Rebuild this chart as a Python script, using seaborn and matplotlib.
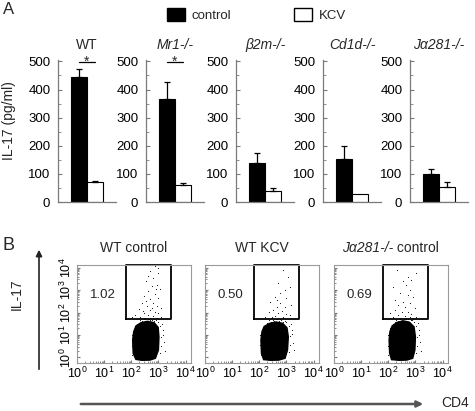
"""IL-17 bar charts (panel A) and CD4 / IL-17 flow plots (panel B)."""

import matplotlib
matplotlib.use("Agg")
import matplotlib.pyplot as plt
import numpy as np
import pandas as pd
import seaborn as sns
from matplotlib.patches import Patch, FancyArrowPatch

# ---- panel A data: IL-17 (pg/ml) ----
genotypes = ["WT", "Mr1-/-", "β2m-/-", "Cd1d-/-", "Jα281-/-"]
title_italic = [False, True, True, True, True]
control_mean = [443, 367, 138, 152, 100]
control_err = [30, 58, 37, 48, 16]
kcv_mean = [70, 60, 40, 27, 52]
kcv_err = [3, 9, 9, 0, 19]
significant = [True, True, False, False, False]

# ---- panel B data: log10 fluorescence (CD4 on x, IL-17 on y) ----
flow_titles = ["WT control", "WT KCV", "Jα281-/- control"]
flow_pct = ["1.02", "0.50", "0.69"]
gate_x = [1.8, 3.47, 3.47, 1.8, 1.8]
gate_y = [1.71, 1.71, 4.12, 4.12, 1.71]

# outline of the dense CD4+ IL-17- population
blob1_x = [2.17, 2.07, 2.05, 2.09, 2.17, 2.36, 2.60, 2.84, 2.99, 3.02, 3.00, 2.89, 2.69, 2.39]
blob1_y = [-0.09, 0.18, 0.78, 1.15, 1.40, 1.55, 1.61, 1.55, 1.34, 0.92, 0.33, -0.04, -0.12, -0.13]
blob2_x = [2.16, 2.08, 2.06, 2.10, 2.18, 2.38, 2.62, 2.86, 3.02, 3.07, 3.04, 2.95, 2.72, 2.42]
blob2_y = [-0.10, 0.18, 0.78, 1.15, 1.38, 1.52, 1.58, 1.52, 1.32, 0.92, 0.33, -0.04, -0.12, -0.13]
blob3_x = [2.12, 2.05, 2.03, 2.06, 2.14, 2.32, 2.55, 2.78, 2.95, 3.00, 2.98, 2.90, 2.68, 2.40]
blob3_y = [-0.10, 0.18, 0.78, 1.15, 1.40, 1.56, 1.63, 1.57, 1.36, 0.92, 0.33, -0.04, -0.12, -0.13]

# scattered events (gate + blob edge)
dots1_x = [2.87, 2.69, 2.99, 2.81, 2.54, 2.93, 2.75, 3.05, 2.63, 2.87, 2.48, 2.99, 2.69,
           2.81, 2.39, 2.57, 2.93, 3.11, 2.27, 2.69, 2.87, 2.45, 2.99, 2.60, 2.15, 2.81,
           2.33, 3.11, 2.51, 2.69, 2.03, 2.93, 2.42, 2.78, 2.54, 2.90, 2.63, 2.99,
           3.05, 3.10, 3.08, 3.15, 3.04, 3.20, 3.12, 2.98, 2.85, 2.70, 2.55, 2.40, 2.28,
           2.20, 2.12, 2.03, 2.01, 2.03, 2.62, 2.78, 2.48, 3.25, 3.18, 2.92, 2.33]
dots1_y = [4.08, 3.84, 3.77, 3.55, 3.40, 3.25, 3.18, 3.03, 2.96, 2.81, 2.74, 2.66, 2.59,
           2.44, 2.41, 2.29, 2.29, 2.22, 2.14, 2.11, 2.02, 1.99, 1.96, 1.90, 1.87, 1.84,
           1.81, 1.80, 1.77, 1.75, 1.78, 1.75, 2.07, 2.22, 2.51, 3.03, 3.62, 3.98,
           0.20, 0.50, 0.90, 1.20, 1.40, 0.70, 1.50, 1.58, 1.62, 1.66, 1.64, 1.62, 1.55,
           1.48, 1.30, 1.00, 0.50, 0.10, 1.70, 1.68, 1.69, 0.30, 1.00, 1.66, 1.66]
dots2_x = [2.86, 3.06, 2.70, 3.12, 2.94, 2.78, 2.58, 3.00, 2.40, 2.76, 2.64, 2.94, 2.52,
           2.82, 2.34, 2.70, 3.00, 2.58, 2.46, 2.88, 2.76, 2.22, 3.12, 2.64, 3.18,
           3.10, 3.14, 3.12, 3.20, 3.09, 3.26, 3.15, 3.00, 2.88, 2.72, 2.56, 2.42, 2.30,
           2.22, 2.13, 2.04, 2.03, 2.05, 2.66, 2.80, 2.50, 3.28, 3.22, 2.95, 2.36]
dots2_y = [3.90, 3.60, 3.30, 3.15, 3.01, 2.86, 2.71, 2.64, 2.49, 2.41, 2.26, 2.26, 2.11,
           2.08, 2.04, 1.96, 1.94, 1.85, 1.82, 1.79, 1.73, 1.78, 1.89, 2.56, 2.34,
           0.25, 0.55, 0.95, 1.20, 1.42, 0.65, 1.48, 1.56, 1.60, 1.64, 1.62, 1.60, 1.53,
           1.46, 1.30, 1.00, 0.55, 0.10, 1.69, 1.67, 1.68, 0.35, 1.05, 1.64, 1.65]
dots3_x = [2.31, 3.03, 2.73, 2.85, 2.19, 2.67, 2.79, 2.43, 2.73, 2.25, 2.91, 2.55, 2.37,
           2.79, 2.61, 2.97, 2.25, 2.49, 2.73, 2.85, 2.37, 2.61, 2.19, 2.79, 3.03, 2.43,
           2.67, 2.91, 2.07, 2.55,
           3.02, 3.06, 3.05, 3.12, 3.01, 3.16, 3.08, 2.94, 2.82, 2.66, 2.50, 2.36, 2.24,
           2.16, 2.08, 1.99, 1.98, 2.00, 2.58, 2.74, 2.44, 3.20, 3.13, 2.88, 2.30]
dots3_y = [3.90, 3.75, 3.60, 3.45, 3.15, 3.23, 3.01, 2.86, 2.78, 2.56, 2.71, 2.49, 2.34,
           2.41, 2.26, 2.19, 2.11, 2.04, 2.04, 1.94, 1.89, 1.85, 1.82, 1.79, 1.82, 1.74,
           1.74, 1.74, 1.96, 3.40,
           0.20, 0.50, 0.90, 1.20, 1.42, 0.70, 1.52, 1.60, 1.66, 1.70, 1.68, 1.64, 1.58,
           1.50, 1.32, 1.00, 0.50, 0.10, 1.72, 1.70, 1.71, 0.30, 1.00, 1.68, 1.68]

blobs = [(blob1_x, blob1_y), (blob2_x, blob2_y), (blob3_x, blob3_y)]
dots = [(dots1_x, dots1_y), (dots2_x, dots2_y), (dots3_x, dots3_y)]

sns.set_style("ticks")
plt.rcParams["font.family"] = ["Liberation Sans", "DejaVu Sans"]
plt.rcParams["mathtext.fontset"] = "custom"
plt.rcParams["mathtext.rm"] = "Liberation Sans"

W, H = 475, 411
fig = plt.figure(figsize=(W / 100, H / 100), dpi=100)
spine_grey = "#7a7a7a"

df = pd.DataFrame({
    "genotype": np.repeat(genotypes, 2),
    "treatment": ["control", "KCV"] * len(genotypes),
    "value": np.ravel(np.column_stack([control_mean, kcv_mean])),
    "err": np.ravel(np.column_stack([control_err, kcv_err])),
})

# ---- panel A ----
a_left = [58, 146, 236, 323, 410]
for i, g in enumerate(genotypes):
    ax = fig.add_axes([a_left[i] / W, 1 - 202 / H, 58 / W, 142 / H])
    sub = df[df["genotype"] == g]
    sns.barplot(data=sub, x="genotype", y="value", hue="treatment",
                hue_order=["control", "KCV"],
                palette={"control": "black", "KCV": "white"},
                edgecolor="black", linewidth=0.8, width=0.8,
                errorbar=None, legend=False, ax=ax)
    centers = []
    for bar, (_, row) in zip(ax.patches, sub.iterrows()):
        cx = bar.get_x() + bar.get_width() / 2
        centers.append(cx)
        if row["err"] > 0:
            ax.errorbar(cx, row["value"], yerr=[[0], [row["err"]]], fmt="none",
                        ecolor="black", elinewidth=0.9, capsize=2.5, capthick=0.9)
    if significant[i]:
        ax.plot(centers, [497, 497], color="black", lw=0.9, clip_on=False)
        ax.text(np.mean(centers), 498, "*", ha="center", va="center", fontsize=10)
    ax.set_xlim(-0.72, 0.72)
    ax.set_ylim(0, 505)
    ax.set_xticks([])
    ax.set_yticks(range(0, 501, 100))
    ax.set_yticks(range(50, 500, 100), minor=True)
    ax.tick_params(axis="y", which="both", direction="in", colors=spine_grey,
                   labelcolor="black", labelsize=9.5, pad=5.5)
    ax.tick_params(axis="y", which="major", length=3)
    ax.tick_params(axis="y", which="minor", length=2)
    ax.set_xlabel("")
    ax.set_ylabel("")
    sns.despine(ax=ax)
    for s in ("left", "bottom"):
        ax.spines[s].set_color(spine_grey)
        ax.spines[s].set_linewidth(0.9)
    ax.set_title(g, fontsize=10, pad=8,
                 style="italic" if title_italic[i] else "normal")

fig.text(9 / W, 1 - 121 / H, "IL-17 (pg/ml)", rotation=90, ha="center",
         va="center", fontsize=10)
fig.text(3 / W, 1 - 9 / H, "A", ha="left", va="center", fontsize=12)
fig.legend(handles=[Patch(fc="black", ec="black"), Patch(fc="white", ec="black")],
           labels=["control", "KCV"], loc="upper left",
           bbox_to_anchor=(160 / W, 1 - 1 / H), ncol=2, frameon=False,
           borderpad=0, handlelength=1.36, handleheight=1.2,
           handletextpad=0.5, columnspacing=4.8, fontsize=9.5)

# ---- panel B ----
b_left = [77, 205, 334]
decades = np.arange(0, 5)
minor = np.concatenate([d + np.log10(np.arange(2, 10)) for d in range(4)])
for i in range(3):
    ax = fig.add_axes([b_left[i] / W, 1 - 363 / H, 114 / W, 98 / H])
    bx, by = blobs[i]
    ax.fill(bx, by, color="black", lw=1.0)
    sns.scatterplot(x=dots[i][0], y=dots[i][1], s=0.6, color="black",
                    linewidth=0, ax=ax)
    ax.plot(gate_x, gate_y, color="black", lw=1.3, clip_on=False)
    ax.text(0.95, 2.78, flow_pct[i], ha="center", va="center", fontsize=9.5)
    ax.set_xlim(0, 4.2)
    ax.set_ylim(-0.25, 4.12)
    ax.set_xticks(decades)
    ax.set_xticklabels([rf"$\mathregular{{10^{{{d}}}}}$" for d in decades])
    ax.set_xticks(minor, minor=True)
    ax.set_yticks(decades)
    ax.set_yticks(minor, minor=True)
    if i == 0:
        ax.set_yticklabels([rf"$\mathregular{{10^{{{d}}}}}$" for d in decades],
                           rotation=90, va="center")
    else:
        ax.set_yticklabels([])
    ax.tick_params(which="both", direction="in", colors=spine_grey,
                   labelcolor="black", labelsize=9, pad=2)
    ax.tick_params(which="major", length=2.5)
    ax.tick_params(which="minor", length=1.2)
    for s in ax.spines.values():
        s.set_color("#9a9a9a")
        s.set_linewidth(0.8)
    if i == 2:
        ax.text(0.52, 1.17, "Jα281-/-", style="italic", ha="right",
                va="center", fontsize=10, transform=ax.transAxes)
        ax.text(0.52, 1.17, " control", ha="left", va="center", fontsize=10,
                transform=ax.transAxes)
    else:
        ax.text(0.5, 1.17, flow_titles[i], ha="center", va="center",
                fontsize=10, transform=ax.transAxes)

fig.text(3 / W, 1 - 245 / H, "B", ha="left", va="center", fontsize=13)
fig.text(17 / W, 1 - 294 / H, "IL-17", rotation=90, ha="center", va="center",
         fontsize=10)
fig.add_artist(FancyArrowPatch((39 / W, 1 - 372 / H), (39 / W, 1 - 247 / H),
                               transform=fig.transFigure, arrowstyle="-|>",
                               mutation_scale=9, lw=1.2, color="#222222"))
fig.add_artist(FancyArrowPatch((78 / W, 1 - 404 / H), (426 / W, 1 - 404 / H),
                               transform=fig.transFigure, arrowstyle="-|>",
                               mutation_scale=9, lw=1.8, color="#555555"))
fig.text(455 / W, 1 - 403 / H, "CD4", ha="center", va="center", fontsize=10)

fig.savefig("out.png", dpi=100)
plt.close(fig)
